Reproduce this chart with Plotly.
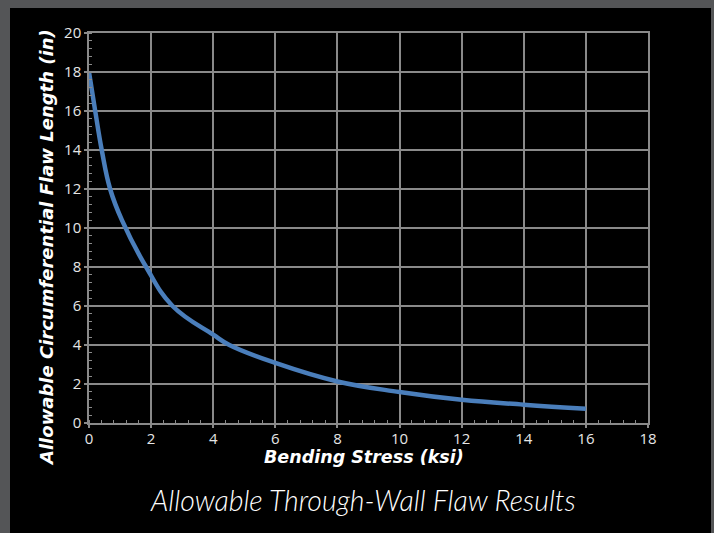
import plotly.graph_objects as go

# Data
bending_stress = [0, 0.2, 0.41, 0.68, 1.06, 1.84, 2.69, 4.0, 4.52, 6.0, 8.0, 10.0, 12.0, 14.0, 16.0]
flaw_length = [18.0, 16.0, 14.0, 12.0, 10.4, 8.0, 6.0, 4.53, 4.0, 3.08, 2.13, 1.59, 1.19, 0.94, 0.73]

x_ticks = [0, 2, 4, 6, 8, 10, 12, 14, 16, 18]
y_ticks = [0, 2, 4, 6, 8, 10, 12, 14, 16, 18, 20]

x_title = "Bending Stress (ksi)"
y_title = "Allowable Circumferential Flaw Length (in)"
chart_title = "Allowable Through-Wall Flaw Results"

W, H = 714, 533
L, R, T, B = 89, 66, 33, 110
pw, ph = W - L - R, H - T - B

def px_x(px):
    return (px - L) / pw

def px_y(py):
    return (H - B - py) / ph

GRID = "#8a8a8a"
TXT = "#e6e6e6"

fig = go.Figure()
fig.add_trace(go.Scatter(
    x=bending_stress, y=flaw_length, mode="lines",
    line=dict(color="#4a7ebb", width=4.5, shape="spline", smoothing=1.2),
    hoverinfo="skip", showlegend=False,
))

axis_common = dict(
    showgrid=True, gridcolor=GRID, gridwidth=1.5,
    showline=True, linecolor=GRID, linewidth=1.5, mirror=True,
    zeroline=False,
    ticks="outside", ticklen=3, tickcolor=GRID, tickwidth=1.5,
    tickfont=dict(family="Open Sans", size=15, color=TXT),
    minor=dict(dtick=0.4, ticks="inside", ticklen=3, tickcolor=GRID, tickwidth=1, showgrid=False),
)

fig.update_xaxes(range=[0, 18], tickvals=x_ticks, ticktext=[str(v) for v in x_ticks],
                 ticklabelstandoff=-2, **axis_common)
fig.update_yaxes(range=[0, 20], tickvals=y_ticks, ticktext=[str(v) for v in y_ticks], **axis_common)

title_font = dict(family="DejaVu Sans", size=17.5, color="white", weight="bold", style="italic")

fig.update_layout(
    width=W, height=H, autosize=False,
    margin=dict(l=L, r=R, t=T, b=B, pad=0),
    paper_bgcolor="#545557", plot_bgcolor="black",
    shapes=[dict(type="rect", xref="paper", yref="paper", layer="below",
                 x0=px_x(10), x1=px_x(711), y0=px_y(540), y1=px_y(8),
                 fillcolor="black", line=dict(width=0))],
    annotations=[
        dict(text=x_title, xref="paper", yref="paper", x=px_x(364), y=px_y(457),
             xanchor="center", yanchor="middle", showarrow=False, font=title_font),
        dict(text=y_title, xref="paper", yref="paper", x=px_x(46), y=px_y(248),
             xanchor="center", yanchor="middle", showarrow=False, textangle=-90,
             font=dict(family="DejaVu Sans", size=18, color="white", weight="bold", style="italic")),
        dict(text=chart_title, xref="paper", yref="paper", x=px_x(363), y=px_y(500),
             xanchor="center", yanchor="middle", showarrow=False,
             font=dict(family="Lato", size=28.5, color="white", weight=300, style="italic")),
    ],
)

fig.write_html("out.html", config={"displayModeBar": False},
               post_script="document.body.style.margin='0';")
